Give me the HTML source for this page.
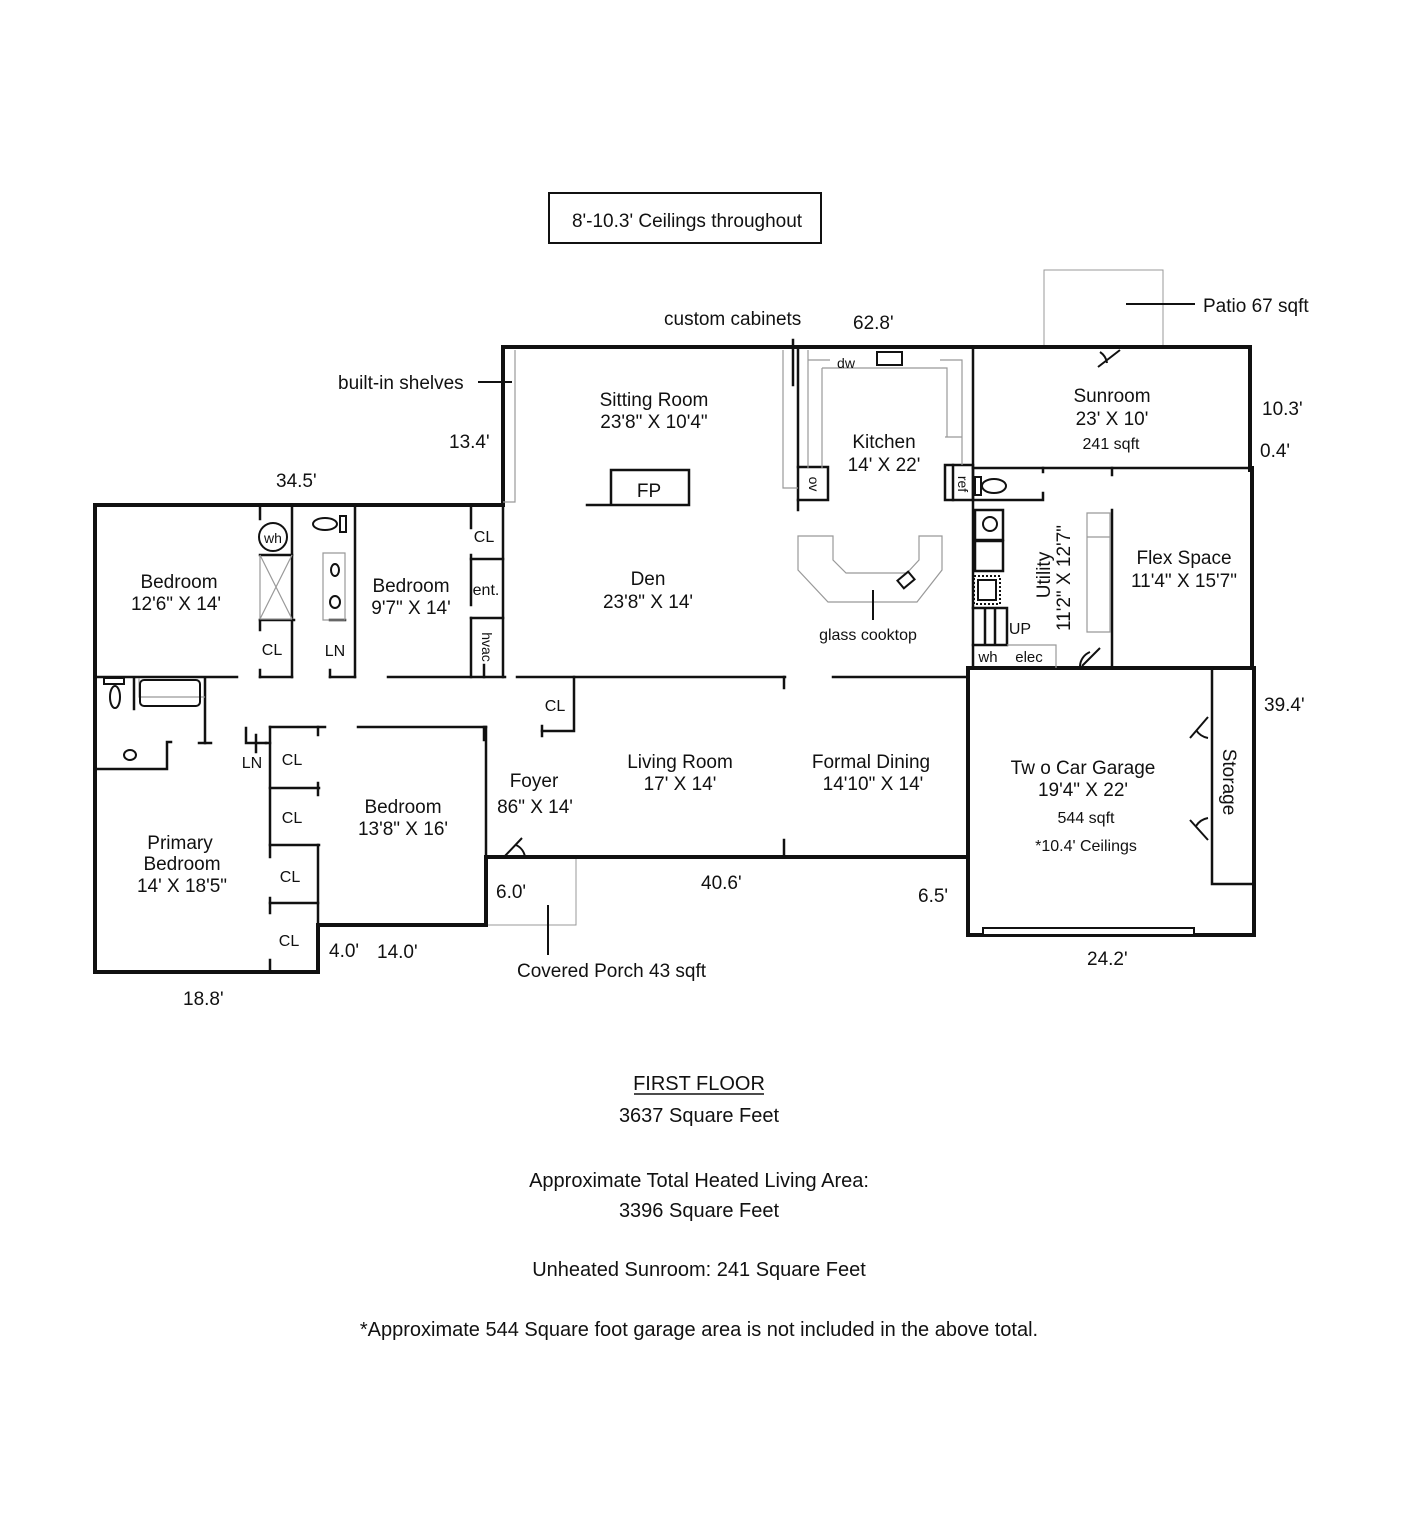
<!DOCTYPE html>
<html><head><meta charset="utf-8"><style>
html,body{margin:0;padding:0;background:#fff;}
svg{display:block;}
svg text{font-family:"Liberation Sans",sans-serif;fill:#111;stroke:none !important;font-weight:normal;}
.c{text-anchor:middle;}
</style></head><body>
<svg width="1408" height="1536" viewBox="0 0 1408 1536" xmlns="http://www.w3.org/2000/svg">
<rect width="1408" height="1536" fill="#fff"/>
<rect x="549" y="193" width="272" height="50" fill="none" stroke="#111" stroke-width="2"/>
<text x="687" y="227" class="c" font-size="19">8'-10.3' Ceilings throughout</text>

<path d="M1044 347 V270 H1163 V347" fill="none" stroke="#999" stroke-width="1"/>
<line x1="1126" y1="304" x2="1195" y2="304" stroke="#111" stroke-width="2"/>
<text x="1203" y="312" font-size="19">Patio 67 sqft</text>

<path d="M486 925 H576 V857" fill="none" stroke="#999" stroke-width="1"/>
<line x1="548" y1="905" x2="548" y2="955" stroke="#111" stroke-width="2"/>

<g stroke="#111" fill="none" stroke-linecap="square">
<g stroke-width="4">
<path d="M95 505 H503 V347 H1250 V470"/>
<path d="M1252 468 V668"/>
<path d="M1254 668 V935 H968 V668 H1254"/>
<path d="M486 857 H968"/>
<path d="M486 857 V925 H318 V972 H95 V505"/>
</g>
<g stroke-width="2.5">
<path d="M95 677 H237"/><path d="M260 677 H292"/><path d="M330 677 H355"/><path d="M388 677 H505"/><path d="M517 677 H785"/><path d="M833 677 H968"/>
<path d="M292 505 V677"/><path d="M260 620 H294"/><path d="M260 620 V630"/><path d="M260 670 V677"/>
<path d="M260 555 H292"/><path d="M260 505 V519"/>
<path d="M355 505 V677"/><path d="M330 620 H345"/><path d="M330 670 V677"/>
<path d="M471 505 V528"/><path d="M471 555 V605"/><path d="M471 618 V677"/>
<path d="M471 559 H503"/><path d="M471 618 H503"/><path d="M503 505 V677"/>
<path d="M134 678 V709"/><path d="M205 678 V743"/><path d="M199 743 H211"/>
<path d="M95 769 H167 V742 H171"/>
<path d="M246 728 V743 M246 743 H266 M256 735 V752"/>
<path d="M266 743 H270"/>
<path d="M270 727 H325"/><path d="M358 727 H486"/><path d="M486 727 V857"/>
<path d="M270 727 V857"/><path d="M270 788 H319"/><path d="M318 783 V795"/>
<path d="M270 845 H319"/><path d="M318 845 V972"/>
<path d="M270 903 H318"/><path d="M270 898 V913"/>
<path d="M270 960 V972"/><path d="M318 727 V735"/>
<path d="M574 677 V731 H542"/><path d="M542 726 V736"/>
<path d="M484 665 V677"/><path d="M484 727 V740"/>
<path d="M784 677 V688"/><path d="M784 840 V857"/>
<path d="M798 347 V510"/><path d="M793 340 V385"/>
<path d="M798 467 H828 V500 H798"/>
<path d="M973 347 V668"/>
<path d="M945 465 H973 V500 H945 Z"/><path d="M953 465 V500"/>
<path d="M973 468 H1250"/>
<path d="M973 500 H1043 V493"/><path d="M1043 468 V472"/>
<path d="M1112 468 V475"/><path d="M1112 510 V668"/>
<rect x="975" y="510" width="28" height="30"/><rect x="975" y="541" width="28" height="30"/>
<path d="M973 608 H1007 V645 M985 608 V645 M995 608 V645 M973 645 H1007"/>
<path d="M1212 668 V884 H1254"/>
<rect x="983" y="928" width="211" height="7" stroke-width="2" fill="#fff"/>
<path d="M587 505 H611 V470 H689 V505 H611"/>
</g>
</g>
<g stroke="#999" stroke-width="1.2" fill="none">
<path d="M515 350 V502 H503"/>
<path d="M783 350 V488 H798"/>
<path d="M808 350 V468 M808 360 H830 M940 360 H962 V437 H945 M962 437 V465 M822 368 H947 V437 M822 368 V468"/>
<path d="M798 536 H833 V560 L846 573 H907 L919 560 V536 H942 V570 L917 602 H828 L798 570 Z"/>
<path d="M260 555 V619 H292 M260 555 L292 619 M292 555 L260 619"/>
<path d="M323 553 H345 V620 H323 Z"/>
<path d="M139 678 V697 H205"/>
<path d="M1087 513 H1110 V632 H1087 Z M1087 537 H1110"/>
<path d="M1007 645 H1056 V668"/>
</g>
<g stroke="#111" stroke-width="2" fill="none">
<rect x="877" y="352" width="25" height="13"/>
<rect x="140" y="680" width="60" height="26" rx="4"/>
<ellipse cx="115" cy="697" rx="5" ry="11"/><rect x="104" y="678" width="20" height="6"/>
<ellipse cx="325" cy="524" rx="12" ry="6"/><rect x="340" y="516" width="6" height="16"/>
<ellipse cx="994" cy="486" rx="12" ry="7"/><rect x="975" y="477" width="6" height="18"/>
<circle cx="273" cy="537" r="14"/>
<ellipse cx="130" cy="755" rx="6" ry="5"/>
<ellipse cx="335" cy="570" rx="4" ry="6"/><ellipse cx="335" cy="602" rx="5" ry="6"/>
<circle cx="990" cy="524" r="7"/>
<rect x="978" y="580" width="18" height="20"/><rect x="974" y="576" width="26" height="28" stroke-dasharray="2 2"/>
<rect x="899" y="575" width="14" height="10" transform="rotate(-40 906 580)"/>
<path d="M1098 367 L1120 350 M1100 352 A16 16 0 0 1 1107 363"/>
<path d="M1082 666 L1100 648 M1080 666 A16 16 0 0 1 1090 652"/>
<path d="M1190 738 L1208 717 M1208 738 A18 18 0 0 1 1196 730"/>
<path d="M1190 820 L1208 840 M1208 818 A18 18 0 0 0 1196 826"/>
<path d="M504 857 L522 838 M516 845 A16 16 0 0 1 525 857"/>
</g>
<line x1="873" y1="590" x2="873" y2="620" stroke="#111" stroke-width="2"/>
<line x1="478" y1="382" x2="512" y2="382" stroke="#111" stroke-width="2"/>

<g font-size="19">
<text x="664" y="325">custom cabinets</text>
<text x="853" y="329">62.8'</text>
<text x="338" y="389">built-in shelves</text>
<text x="449" y="448">13.4'</text>
<text x="276" y="487">34.5'</text>
<text x="1262" y="415">10.3'</text>
<text x="1260" y="457">0.4'</text>
<text x="1264" y="711">39.4'</text>
<text x="183" y="1005">18.8'</text>
<text x="329" y="957">4.0'</text>
<text x="377" y="958">14.0'</text>
<text x="496" y="898">6.0'</text>
<text x="701" y="889">40.6'</text>
<text x="918" y="902">6.5'</text>
<text x="1087" y="965">24.2'</text>
<text x="517" y="977">Covered Porch 43 sqft</text>
<text x="654" y="406" class="c">Sitting Room</text><text x="654" y="428" class="c">23'8" X 10'4"</text>
<text x="649" y="497" class="c">FP</text>
<text x="648" y="585" class="c">Den</text><text x="648" y="608" class="c">23'8" X 14'</text>
<text x="884" y="448" class="c">Kitchen</text><text x="884" y="471" class="c">14' X 22'</text>
<text x="1112" y="402" class="c">Sunroom</text><text x="1112" y="425" class="c">23' X 10'</text>
<text x="1184" y="564" class="c">Flex Space</text><text x="1184" y="587" class="c">11'4" X 15'7"</text>
<text x="179" y="588" class="c">Bedroom</text><text x="176" y="610" class="c">12'6" X 14'</text>
<text x="411" y="592" class="c">Bedroom</text><text x="411" y="614" class="c">9'7" X 14'</text>
<text x="403" y="813" class="c">Bedroom</text><text x="403" y="835" class="c">13'8" X 16'</text>
<text x="180" y="849" class="c">Primary</text><text x="182" y="870" class="c">Bedroom</text><text x="182" y="892" class="c">14' X 18'5"</text>
<text x="534" y="787" class="c">Foyer</text><text x="535" y="813" class="c">86" X 14'</text>
<text x="680" y="768" class="c">Living Room</text><text x="680" y="790" class="c">17' X 14'</text>
<text x="871" y="768" class="c">Formal Dining</text><text x="873" y="790" class="c">14'10" X 14'</text>
<text x="1083" y="774" class="c">Tw o Car Garage</text><text x="1083" y="796" class="c">19'4" X 22'</text>
<text x="1223" y="782" class="c" transform="rotate(90 1223 782)">Storage</text>
<text x="1050" y="575" class="c" transform="rotate(-90 1050 575)">Utility</text>
<text x="1070" y="578" class="c" transform="rotate(-90 1070 578)">11'2" X 12'7"</text>
</g>
<g font-size="16">
<text x="1111" y="449" class="c">241 sqft</text>
<text x="1086" y="823" class="c">544 sqft</text>
<text x="1086" y="851" class="c">*10.4' Ceilings</text>
<text x="868" y="640" class="c">glass cooktop</text>
<text x="272" y="655" class="c">CL</text><text x="335" y="656" class="c">LN</text>
<text x="484" y="542" class="c">CL</text><text x="486" y="595" class="c">ent.</text>
<text x="555" y="711" class="c">CL</text>
<text x="292" y="765" class="c">CL</text><text x="292" y="823" class="c">CL</text>
<text x="290" y="882" class="c">CL</text><text x="289" y="946" class="c">CL</text>
<text x="252" y="768" class="c">LN</text>
<text x="1020" y="634" class="c">UP</text>
<text x="988" y="662" class="c" font-size="15">wh</text><text x="1029" y="662" class="c" font-size="15">elec</text>
<text x="846" y="368" class="c" font-size="14">dw</text>
<text x="273" y="543" class="c" font-size="14">wh</text>
<text x="482" y="647" class="c" font-size="14" transform="rotate(90 482 647)">hvac</text>
<text x="809" y="484" class="c" font-size="14" transform="rotate(90 809 484)">ov</text>
<text x="958" y="484" class="c" font-size="14" transform="rotate(90 958 484)">ref</text>
</g>

<g font-size="20">
<text x="699" y="1090" class="c">FIRST FLOOR</text>
<line x1="634" y1="1094" x2="764" y2="1094" stroke="#111" stroke-width="1.5"/>
<text x="699" y="1122" class="c">3637 Square Feet</text>
<text x="699" y="1187" class="c">Approximate Total Heated Living Area:</text>
<text x="699" y="1217" class="c">3396 Square Feet</text>
<text x="699" y="1276" class="c">Unheated Sunroom: 241 Square Feet</text>
<text x="699" y="1336" class="c">*Approximate 544 Square foot garage area is not included in the above total.</text>
</g>
</svg>
</body></html>
